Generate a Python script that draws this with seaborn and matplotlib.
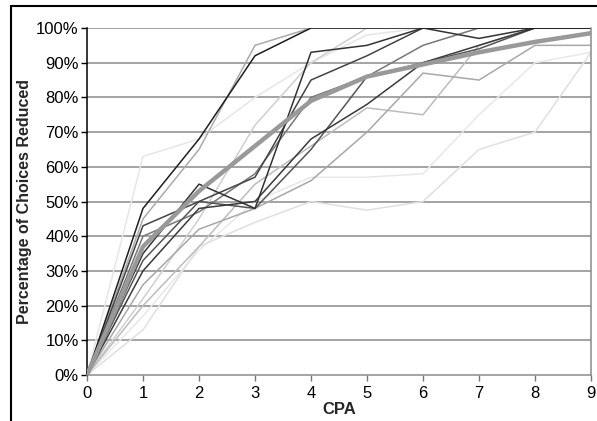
import matplotlib
matplotlib.use("Agg")
import matplotlib.pyplot as plt
from matplotlib.patches import Rectangle
from matplotlib.ticker import FuncFormatter
import numpy as np
import pandas as pd
import seaborn as sns

cpa = [0, 1, 2, 3, 4, 5, 6, 7, 8, 9]

# individual subjects (percent of choices reduced at each CPA)
s01 = [0, 48, 68, 92, 100, 100, 100, 100, 100, 100]
s02 = [0, 45, 65, 95, 100, 100, 100, 100, 100, 100]
s03 = [0, 43, 50, 57, 85, 92, 100, 100, 100, 100]
s04 = [0, 35, 55, 48, 93, 95, 100, 97, 100, 100]
s05 = [0, 30, 48, 50, 68, 78, 90, 95, 100, 100]
s06 = [0, 33, 50, 48, 65, 86, 90, 94, 100, 100]
s07 = [0, 40, 47, 58, 80, 86, 95, 100, 100, 100]
s08 = [0, 26, 42, 48, 56, 70, 87, 85, 95, 95]
s09 = [0, 20, 37, 55, 66, 77, 75, 95, 100, 100]
s10 = [0, 63, 68, 80, 90, 98, 100, 100, 100, 100]
s11 = [0, 13, 37, 44, 50, 47.5, 50, 65, 70, 93]
s12 = [0, 22, 45, 72, 90, 100, 100, 100, 100, 100]
s13 = [0, 17, 36, 50, 57, 57, 58, 75, 90, 93]
mean = [0, 37, 53, 66, 79, 86, 89.5, 93, 96, 98.5]

subjects = [s01, s02, s03, s04, s05, s06, s07, s08, s09, s10, s11, s12, s13]
colors = ["#1e1e1e", "#aaaaaa", "#444444", "#333333", "#3a3a3a", "#555555",
          "#777777", "#a8a8a8", "#bcbcbc", "#e6e6e6", "#e0e0e0", "#cfcfcf", "#e8e8e8"]

sns.set_style("white")
plt.rcParams['font.family'] = ['Liberation Sans', 'DejaVu Sans']

fig = plt.figure(figsize=(5.97, 4.21), dpi=100)
ax = fig.add_axes([87/597, 1-375/421, (591-87)/597, (375-28)/421])

for y in range(10, 101, 10):
    ax.axhline(y, color="#8a8a8a", lw=1.1, zorder=0)

# light lines first so dark ones sit on top
order = sorted(range(len(subjects)), key=lambda i: -int(colors[i][1:3], 16))
for i in order:
    sns.lineplot(x=cpa, y=subjects[i], color=colors[i], lw=1.1, ax=ax, zorder=2)
sns.lineplot(x=cpa, y=mean, color="#999999", lw=3.2, ax=ax, zorder=3)

ax.set_xlim(0, 9)
ax.set_ylim(0, 100)
ax.set_xticks(cpa)
ax.set_yticks(range(0, 101, 10))
ax.yaxis.set_major_formatter(FuncFormatter(lambda v, p: "%d%%" % v))
ax.tick_params(axis="both", direction="out", length=4, width=1, labelsize=12, pad=2,
               bottom=True, left=True, colors="black")
ax.tick_params(axis="x", color="#777777", pad=4)

ax.spines["left"].set_color("black")
ax.spines["left"].set_linewidth(1.1)
for side in ["bottom", "right"]:
    ax.spines[side].set_color("#8a8a8a")
    ax.spines[side].set_linewidth(1.1)
ax.spines["top"].set_visible(False)

ax.set_xlabel("CPA", fontsize=12, fontweight="bold", labelpad=1)
ax.set_ylabel("Percentage of Choices Reduced", fontsize=11.5, fontweight="bold", labelpad=3)

# outer chart frame
fig.add_artist(Rectangle((11/597, -0.05), 1.1, 1 - 6/421 + 0.05, transform=fig.transFigure,
                         fill=False, edgecolor="black", lw=1.5))

fig.savefig("out.png", dpi=100)
